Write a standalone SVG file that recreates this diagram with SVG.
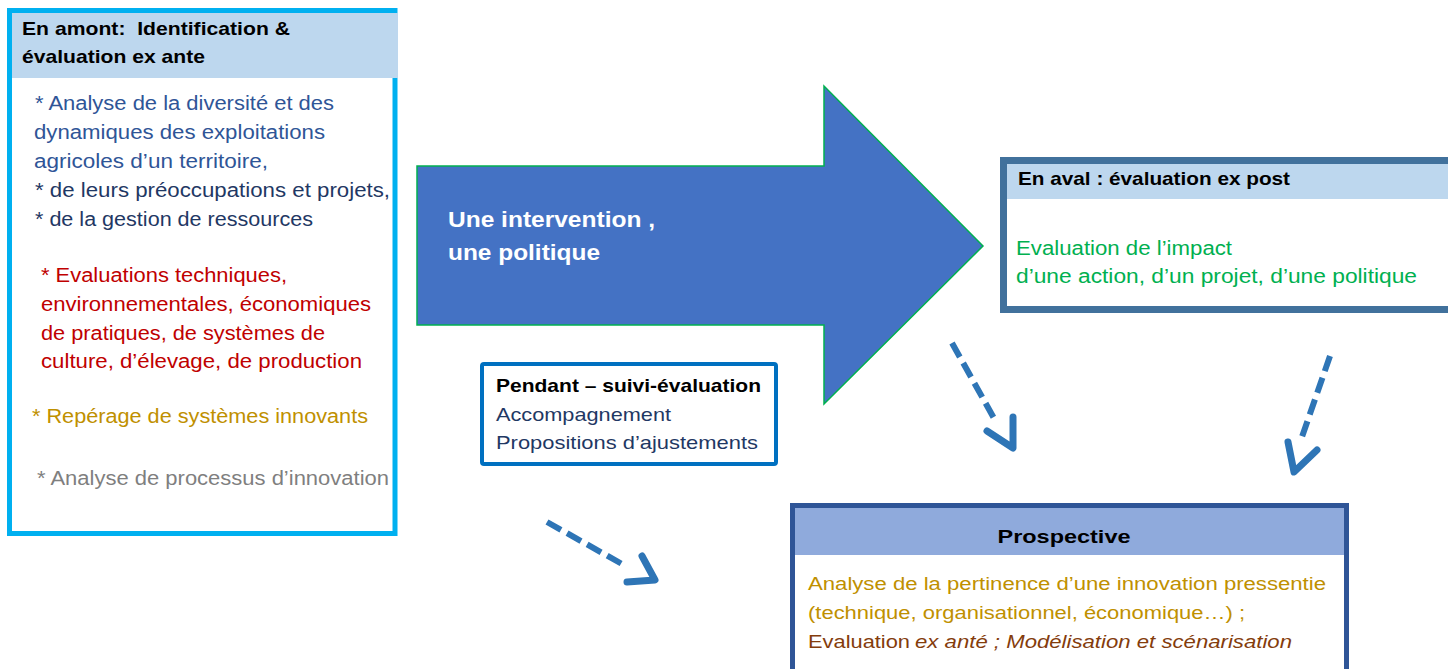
<svg xmlns="http://www.w3.org/2000/svg" width="1448" height="669" viewBox="0 0 1448 669">
<defs>
<style>
text { font-family: "Liberation Sans", Arial, sans-serif; }
.b { font-weight: bold; }
.hdr { font-size: 18.5px; font-weight: bold; fill: #000; }
.body { font-size: 20px; }
.blue { fill: #2F5597; }
.navy { fill: #1F3864; }
.red { fill: #C00000; }
.gold { fill: #BF9000; }
.grey { fill: #7F7F7F; }
.green { fill: #00B050; }
.brown { fill: #843C0C; }
.dash { fill: none; stroke: #2E75B6; stroke-width: 6; stroke-dasharray: 16 7; }
.head { fill: none; stroke: #2E75B6; stroke-width: 7; stroke-linecap: round; stroke-linejoin: round; }
</style>
</defs>
<rect width="1448" height="669" fill="#fff"/>

<g id="amont">
<rect x="9.5" y="10.5" width="385.5" height="523" fill="#fff" stroke="#00B0F0" stroke-width="5"/>
<rect x="12" y="13" width="386" height="65" fill="#BDD7EE"/>
<text class="hdr" x="22" y="35" xml:space="preserve" textLength="268" lengthAdjust="spacingAndGlyphs">En amont:  Identification &amp;</text>
<text class="hdr" x="22" y="63" textLength="183" lengthAdjust="spacingAndGlyphs">évaluation ex ante</text>
<text class="body blue" x="35" y="110" textLength="299" lengthAdjust="spacingAndGlyphs">* Analyse de la diversité et des</text>
<text class="body blue" x="34" y="139" textLength="291" lengthAdjust="spacingAndGlyphs">dynamiques des exploitations</text>
<text class="body blue" x="34" y="168" textLength="234" lengthAdjust="spacingAndGlyphs">agricoles d’un territoire,</text>
<text class="body navy" x="35" y="197" textLength="355" lengthAdjust="spacingAndGlyphs">* de leurs préoccupations et projets,</text>
<text class="body navy" x="35" y="226" textLength="278" lengthAdjust="spacingAndGlyphs">* de la gestion de ressources</text>
<text class="body red" x="41" y="282" textLength="246" lengthAdjust="spacingAndGlyphs">* Evaluations techniques,</text>
<text class="body red" x="41" y="311" textLength="330" lengthAdjust="spacingAndGlyphs">environnementales, économiques</text>
<text class="body red" x="41" y="340" textLength="284" lengthAdjust="spacingAndGlyphs">de pratiques, de systèmes de</text>
<text class="body red" x="41" y="368" textLength="321" lengthAdjust="spacingAndGlyphs">culture, d’élevage, de production</text>
<text class="body gold" x="32" y="423" textLength="336" lengthAdjust="spacingAndGlyphs">* Repérage de systèmes innovants</text>
<text class="body grey" x="37" y="485" textLength="352" lengthAdjust="spacingAndGlyphs">* Analyse de processus d’innovation</text>
</g>

<g id="intervention">
<polygon points="417,166 824,166 824,86 983,246 824,404 824,325 417,325" fill="#4472C4" stroke="#00B050" stroke-width="1.5"/>
<text class="b" x="448" y="227" font-size="22" fill="#fff" textLength="207" lengthAdjust="spacingAndGlyphs">Une intervention ,</text>
<text class="b" x="448" y="260" font-size="22" fill="#fff" textLength="152" lengthAdjust="spacingAndGlyphs">une politique</text>
</g>

<g id="aval">
<rect x="1003.5" y="160.5" width="500" height="149" fill="#fff" stroke="#41719C" stroke-width="7"/>
<rect x="1007" y="164" width="441" height="35" fill="#BDD7EE"/>
<text class="b" x="1018" y="185" font-size="19" fill="#000" textLength="272" lengthAdjust="spacingAndGlyphs">En aval : évaluation ex post</text>
<text class="green" x="1016" y="255" font-size="19.5" textLength="216" lengthAdjust="spacingAndGlyphs">Evaluation de l’impact</text>
<text class="green" x="1016" y="283" font-size="19.5" textLength="401" lengthAdjust="spacingAndGlyphs">d’une action, d’un projet, d’une politique</text>
</g>

<g id="pendant">
<rect x="482" y="364" width="294" height="100" rx="2" fill="#fff" stroke="#0070C0" stroke-width="4"/>
<text class="b" x="496" y="392" font-size="19" fill="#000" textLength="265" lengthAdjust="spacingAndGlyphs">Pendant – suivi-évaluation</text>
<text class="navy" x="496" y="421" font-size="19" textLength="175" lengthAdjust="spacingAndGlyphs">Accompagnement</text>
<text class="navy" x="496" y="449" font-size="19" textLength="262" lengthAdjust="spacingAndGlyphs">Propositions d’ajustements</text>
</g>

<g id="prospective">
<rect x="792.5" y="505.5" width="554" height="200" fill="#fff" stroke="#2F5597" stroke-width="5"/>
<rect x="795" y="508" width="549" height="47" fill="#8FAADC"/>
<text class="b" x="1064" y="543" font-size="19" fill="#000" text-anchor="middle" textLength="133" lengthAdjust="spacingAndGlyphs">Prospective</text>
<text class="gold" x="808" y="590" font-size="17.5" textLength="518" lengthAdjust="spacingAndGlyphs">Analyse de la pertinence d’une innovation pressentie</text>
<text class="gold" x="808" y="619" font-size="17.5" textLength="437" lengthAdjust="spacingAndGlyphs">(technique, organisationnel, économique…) ;</text>
<text class="brown" x="808" y="648" font-size="17.5" textLength="102" lengthAdjust="spacingAndGlyphs">Evaluation</text>
<text class="brown" x="915" y="648" font-size="17.5" font-style="italic" textLength="377" lengthAdjust="spacingAndGlyphs">ex anté ; Modélisation et scénarisation</text>
</g>

<g id="connectors">
<line class="dash" x1="547" y1="522" x2="621.1" y2="563.5"/>
<polyline class="head" points="642,556 655,580 627,582"/>
<line class="dash" x1="952" y1="343" x2="993.4" y2="417.2"/>
<polyline class="head" points="987,431 1013,448 1013,417"/>
<line class="dash" x1="1330" y1="356" x2="1302.2" y2="436.3"/>
<polyline class="head" points="1288,442 1294,472 1317,450"/>
</g>
</svg>
